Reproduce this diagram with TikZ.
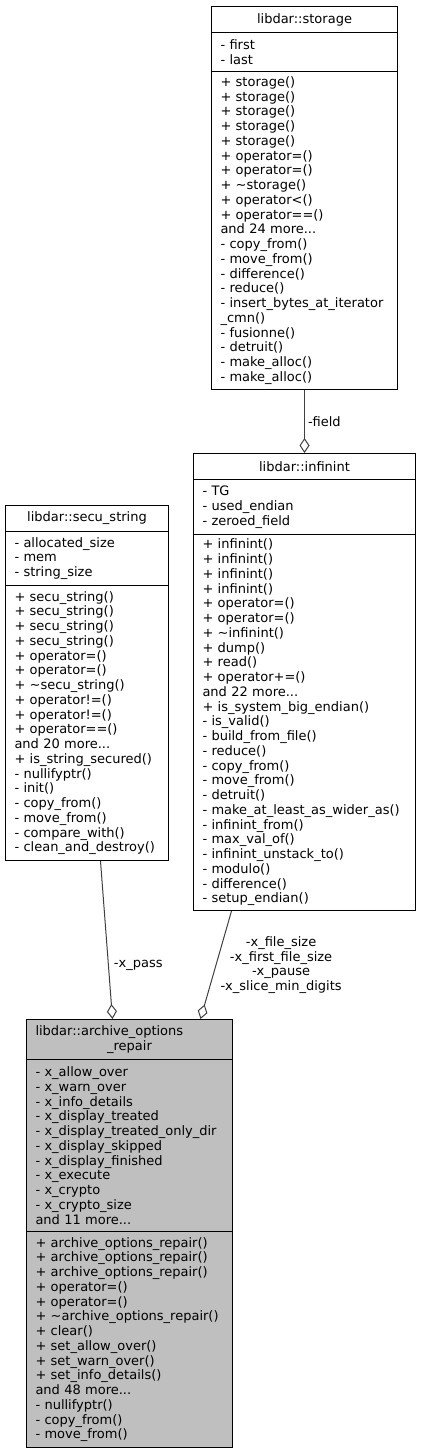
\documentclass[tikz,border=0pt]{standalone}
\usepackage{fontspec}
\setmainfont{DejaVu Sans}
\usetikzlibrary{arrows.meta}
\tikzset{>=latex}
\definecolor{edgegray}{HTML}{404040}
\definecolor{mainfill}{HTML}{BFBFBF}
\tikzset{
  classpart/.style={draw=black, line width=1pt, anchor=north west,
    inner xsep=9pt, inner ysep=0pt, align=left},
  classhead/.style={classpart, align=center},
  aggregate/.style={draw=edgegray, line width=1pt,
    -{Diamond[open, length=15pt, width=10pt]}}
}

\begin{document}
\begin{tikzpicture}[x=1pt, y=-1pt, font=\fontsize{13}{14.75}\selectfont]
  \useasboundingbox (0,0) rectangle (421,1453);
  % libdar::storage
  \node[classhead, text width=168pt, minimum height=26pt] (storage) at (211,6) {libdar::storage};
  \node[classpart, text width=168pt, minimum height=39pt] (storageA) at (211,32) {- first\\- last};
  \node[classpart, text width=168pt, minimum height=318pt] (storageM) at (211,71)
    {+ storage()\\+ storage()\\+ storage()\\+ storage()\\+ storage()\\
     + operator=()\\+ operator=()\\+ \textasciitilde storage()\\+ operator<()\\+ operator==()\\
     and 24 more...\\- copy\_from()\\- move\_from()\\- difference()\\- reduce()\\
     - insert\_bytes\_at\_iterator\\\_cmn()\\- fusionne()\\- detruit()\\- make\_alloc()\\- make\_alloc()};
  % libdar::infinint
  \node[classhead, text width=204pt, minimum height=26pt] (infinint) at (193,453) {libdar::infinint};
  \node[classpart, text width=204pt, minimum height=55pt] (infinintA) at (193,479)
    {- TG\\- used\_endian\\- zeroed\_field};
  \node[classpart, text width=204pt, minimum height=376pt] (infinintM) at (193,534)
    {+ infinint()\\+ infinint()\\+ infinint()\\+ infinint()\\+ operator=()\\+ operator=()\\
     + \textasciitilde infinint()\\+ dump()\\+ read()\\+ operator+=()\\and 22 more...\\
     + is\_system\_big\_endian()\\- is\_valid()\\- build\_from\_file()\\- reduce()\\
     - copy\_from()\\- move\_from()\\- detruit()\\- make\_at\_least\_as\_wider\_as()\\
     - infinint\_from()\\- max\_val\_of()\\- infinint\_unstack\_to()\\- modulo()\\
     - difference()\\- setup\_endian()};
  % libdar::secu_string
  \node[classhead, text width=145pt, minimum height=26pt] (secu) at (5,505) {libdar::secu\_string};
  \node[classpart, text width=145pt, minimum height=54pt] (secuA) at (5,531)
    {- allocated\_size\\- mem\\- string\_size};
  \node[classpart, text width=145pt, minimum height=275pt] (secuM) at (5,585)
    {+ secu\_string()\\+ secu\_string()\\+ secu\_string()\\+ secu\_string()\\
     + operator=()\\+ operator=()\\+ \textasciitilde secu\_string()\\+ operator!=()\\
     + operator!=()\\+ operator==()\\and 20 more...\\+ is\_string\_secured()\\
     - nullifyptr()\\- init()\\- copy\_from()\\- move\_from()\\- compare\_with()\\
     - clean\_and\_destroy()};
  % libdar::archive_options_repair
  \node[classpart, fill=mainfill, text width=188pt, minimum height=40pt] (archive) at (26,1019)
    {libdar::archive\_options\\\makebox[\linewidth]{\_repair}};
  \node[classpart, fill=mainfill, text width=188pt, minimum height=172pt] (archiveA) at (26,1059)
    {- x\_allow\_over\\- x\_warn\_over\\- x\_info\_details\\- x\_display\_treated\\
     - x\_display\_treated\_only\_dir\\- x\_display\_skipped\\- x\_display\_finished\\
     - x\_execute\\- x\_crypto\\- x\_crypto\_size\\and 11 more...};
  \node[classpart, fill=mainfill, text width=188pt, minimum height=216pt] (archiveM) at (26,1231)
    {+ archive\_options\_repair()\\+ archive\_options\_repair()\\+ archive\_options\_repair()\\
     + operator=()\\+ operator=()\\+ \textasciitilde archive\_options\_repair()\\+ clear()\\
     + set\_allow\_over()\\+ set\_warn\_over()\\+ set\_info\_details()\\and 48 more...\\
     - nullifyptr()\\- copy\_from()\\- move\_from()};
  % aggregations
  \draw[aggregate] (storageM.south) -- node[right, inner sep=3pt] (fieldlbl) {-field} (infinint.north);
  \draw[aggregate] ([xshift=13.5pt]secuM.south) -- node[pos=0.66, right, inner sep=5pt] (passlbl) {-x\_pass}
    ([xshift=-17pt]archive.north);
  \draw[aggregate] ([xshift=-73pt]infinintM.south) -- node[pos=0.5, right, align=center, inner sep=4pt] (sizelbl)
    {-x\_file\_size\\-x\_first\_file\_size\\-x\_pause\\-x\_slice\_min\_digits} ([xshift=71pt]archive.north);
\end{tikzpicture}
\end{document}
